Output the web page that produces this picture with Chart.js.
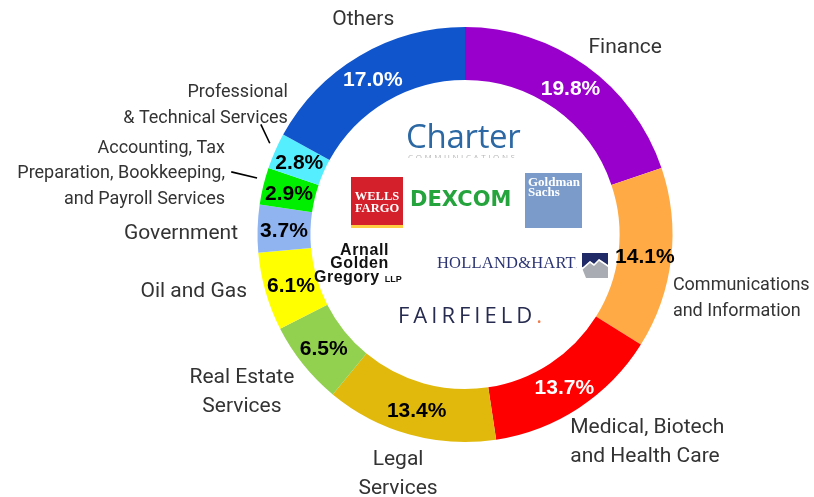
<!DOCTYPE html>
<html><head><meta charset="utf-8">
<script src="https://cdn.jsdelivr.net/npm/chart.js@4"></script>
<style>
body{margin:0;background:#fff;}
#wrap{position:relative;width:814px;height:497px;overflow:hidden;background:#fff;}
#c{position:absolute;left:0;top:0;}
.logo{position:absolute;white-space:nowrap;line-height:1;}
</style></head><body>
<div id="wrap">
<canvas id="c" width="814" height="497"></canvas>
<!-- centre logos (as text) -->
<div class="logo" style="left:406px;top:119px;font-family:'Open Sans';font-size:33px;color:#2C68A3;letter-spacing:-0.3px;">Charter</div>
<div class="logo" style="left:408px;top:153px;font-family:'Open Sans';font-size:8px;color:#b8b8b8;letter-spacing:2.6px;height:5px;overflow:hidden;">COMMUNICATIONS</div>
<div class="logo" style="left:351px;top:177px;width:52px;height:51px;background:#D4202A;border-bottom:3px solid #FFCD41;box-sizing:border-box;"></div>
<div class="logo" style="left:351px;top:190px;width:52px;text-align:center;font-family:'Liberation Serif';font-weight:bold;font-size:12.5px;line-height:12px;color:#fff;">WELLS<br>FARGO</div>
<div class="logo" style="left:410px;top:189px;font-family:'DejaVu Sans';font-weight:bold;font-size:21px;color:#25A33D;letter-spacing:0px;">DEXCOM</div>
<div class="logo" style="left:525px;top:173px;width:57px;height:55px;background:#7B9CCB;"></div>
<div class="logo" style="left:528px;top:177px;font-family:'Liberation Serif';font-weight:bold;font-size:13px;line-height:10px;color:#fff;">Goldman<br>Sachs</div>
<div class="logo" style="left:309px;top:243px;width:80px;font-family:'Liberation Sans';font-weight:bold;font-size:16px;line-height:13px;color:#111;text-align:right;letter-spacing:0.6px;">
<div>Arnall</div><div>Golden</div></div>
<div class="logo" style="left:314px;top:270px;font-family:'Liberation Sans';font-weight:bold;font-size:16px;line-height:13px;color:#111;letter-spacing:0.5px;">Gregory <span style="font-size:9px;letter-spacing:0">LLP</span></div>
<div class="logo" style="left:437px;top:255px;font-family:'Liberation Serif';font-size:16.5px;color:#2C3573;letter-spacing:0.2px;">HOLLAND&amp;HART<span style="font-size:5px">.</span></div>
<svg class="logo" style="left:582px;top:253px" width="26" height="25" viewBox="0 0 26 25">
<rect x="0" y="0" width="26" height="14" fill="#1F2A66"/>
<polygon points="0,15 8,8 12,11 17,6 26,12 26,25 4,25" fill="#A9ADB3"/>
<polygon points="0,15 8,8 12,11 17,6 26,12 26,14 17,8 12,13 8,10 0,17" fill="#fff"/>
</svg>
<div class="logo" style="left:398px;top:303px;font-family:'Open Sans';font-size:22px;color:#262B4F;letter-spacing:4px;">FAIRFIELD<span style="color:#F07C4C">.</span></div>
</div>
<script>
// ---- data ----
const categories = [
  ["Finance"],
  ["Communications", "and Information"],
  ["Medical, Biotech", "and Health Care"],
  ["Legal", "Services"],
  ["Real Estate", "Services"],
  ["Oil and Gas"],
  ["Government"],
  ["Accounting, Tax", "Preparation, Bookkeeping,", "and Payroll Services"],
  ["Professional", "& Technical Services"],
  ["Others"]
];
const shares = [19.8, 14.1, 13.7, 13.4, 6.5, 6.1, 3.7, 2.9, 2.8, 17.0];

// ---- styles ----
const sliceColors = ["#9900CC", "#FFAA44", "#FF0000", "#E0B90C", "#92D050", "#FFFF00", "#8FB4F0", "#00EE00", "#55EEFF", "#1155CC"];
const valueColors = ["#fff", "#000", "#fff", "#000", "#000", "#000", "#000", "#000", "#000", "#fff"];
// outer label layout: [angle tweak from slice middle (deg), distance beyond outer edge (px), align, font size, line height]
const labelLayout = [
  [4.7, 40, "center", 21, 29],
  [10, 9.5, "left", 18, 26],
  [6.2, 23.5, "left", 21, 29],
  [0.25, 39.5, "center", 21, 29],
  [3.8, 64.5, "center", 21, 29],
  [1.7, 17.5, "right", 21, 29],
  [-1.0, 19.5, "right", 21, 29],
  [1.1, 40.5, "right", 18, 25.5],
  [12.8, 13, "right", 18, 26],
  [5.4, 31.5, "center", 21, 29]
];
// leader lines: index -> [start angle tweak, start dist, end angle tweak, end dist]
const leaders = {7: [1.7, 8, 1.5, 34.5], 8: [1.3, 8, 4.6, 24.5]};

const labelPlugin = {
  id: "sliceLabels",
  afterDatasetsDraw(chart) {
    const ctx = chart.ctx;
    const meta = chart.getDatasetMeta(0);
    ctx.save();
    meta.data.forEach((arc, i) => {
      const p = arc.getProps(["x", "y", "startAngle", "endAngle", "innerRadius", "outerRadius"], true);
      const mid = (p.startAngle + p.endAngle) / 2;
      // value labels
      const rm = (p.innerRadius + p.outerRadius) / 2;
      ctx.font = "bold 21px 'Liberation Sans', Arial, sans-serif";
      ctx.fillStyle = valueColors[i];
      ctx.textAlign = "center";
      ctx.textBaseline = "middle";
      ctx.fillText(shares[i].toFixed(1) + "%", p.x + rm * Math.cos(mid), p.y + rm * Math.sin(mid) + 2);
      // category labels
      const [tw, dist, align, fs, lh] = labelLayout[i];
      const a = mid + tw * Math.PI / 180;
      const r = p.outerRadius + dist;
      const ax = p.x + r * Math.cos(a), ay = p.y + r * Math.sin(a) + 2;
      const lines = categories[i];
      ctx.font = fs + "px Roboto, sans-serif";
      ctx.fillStyle = "#333333";
      ctx.textAlign = align;
      lines.forEach((ln, k) => {
        ctx.fillText(ln, ax, ay + (k - (lines.length - 1) / 2) * lh);
      });
      if (leaders[i]) {
        const [s1, d1, s2, d2] = leaders[i];
        const a1 = mid + s1 * Math.PI / 180, a2 = mid + s2 * Math.PI / 180;
        ctx.strokeStyle = "#000";
        ctx.lineWidth = 1.6;
        ctx.beginPath();
        ctx.moveTo(p.x + (p.outerRadius + d1) * Math.cos(a1), p.y + (p.outerRadius + d1) * Math.sin(a1));
        ctx.lineTo(p.x + (p.outerRadius + d2) * Math.cos(a2), p.y + (p.outerRadius + d2) * Math.sin(a2));
        ctx.stroke();
      }
    });
    ctx.restore();
  }
};

function draw() {
  new Chart(document.getElementById("c"), {
    type: "doughnut",
    data: {
      labels: categories.map(c => c.join(" ")),
      datasets: [{ data: shares, backgroundColor: sliceColors, borderWidth: 0 }]
    },
    options: {
      responsive: false,
      animation: false,
      cutout: "74.5%",
      layout: { padding: { left: 257.5, right: 141.5, top: 27, bottom: 55 } },
      plugins: { legend: { display: false }, tooltip: { enabled: false } }
    },
    plugins: [labelPlugin]
  });
}
if (document.fonts && document.fonts.load) {
  Promise.all([
    document.fonts.load("21px Roboto"),
    document.fonts.load("bold 21px 'Liberation Sans'")
  ]).then(draw, draw);
} else { draw(); }
</script>
</body></html>
